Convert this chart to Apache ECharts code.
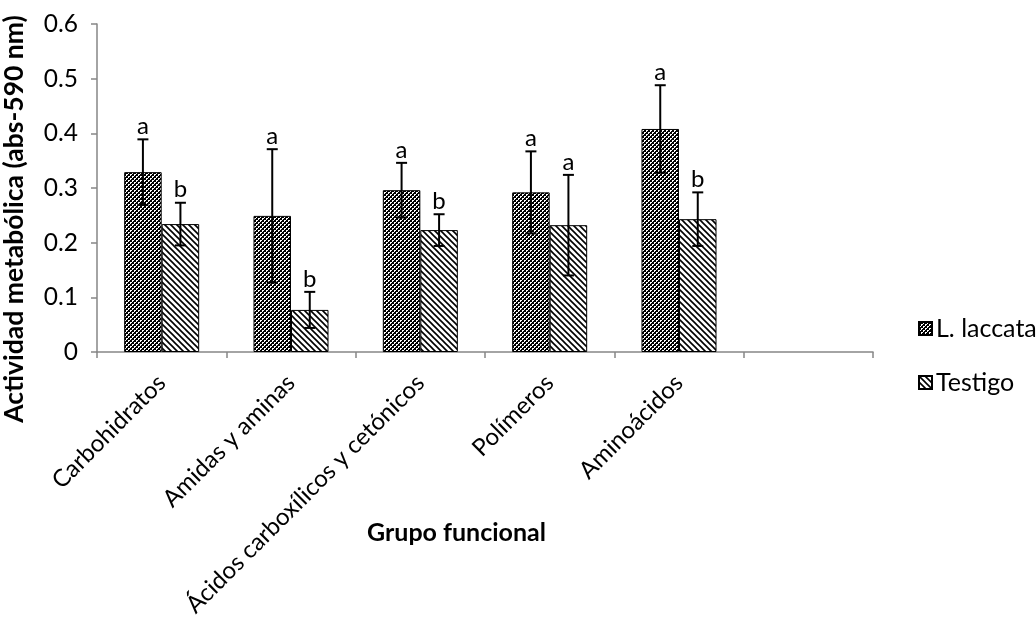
<!DOCTYPE html>
<html>
<head>
<meta charset="utf-8">
<script src="https://cdn.jsdelivr.net/npm/echarts@6/dist/echarts.min.js"></script>
<style>html,body{margin:0;padding:0;background:#fff}#c{width:1036px;height:619px}</style>
</head>
<body>
<div id="c"></div>
<script>
var categories = ['Carbohidratos', 'Amidas y aminas', 'Ácidos carboxílicos y cetónicos', 'Polímeros', 'Aminoácidos', ''];
var laccataValues = [0.329, 0.249, 0.296, 0.292, 0.408, null];
var laccataErrors = [0.060, 0.122, 0.050, 0.075, 0.080, null];
var laccataLetters = ['a', 'a', 'a', 'a', 'a', ''];
var testigoValues = [0.234, 0.077, 0.223, 0.232, 0.243, null];
var testigoErrors = [0.039, 0.033, 0.029, 0.092, 0.049, null];
var testigoLetters = ['b', 'b', 'b', 'a', 'b', ''];
var yTicks = [0, 0.1, 0.2, 0.3, 0.4, 0.5, 0.6];

function checkerPattern() {
  var c = document.createElement('canvas');
  c.width = 4; c.height = 4;
  var g = c.getContext('2d');
  g.fillStyle = '#000'; g.fillRect(0, 0, 4, 4);
  g.fillStyle = '#fff';
  g.fillRect(0, 0, 2, 1); g.fillRect(0, 1, 1, 1);
  g.fillRect(2, 2, 2, 1); g.fillRect(2, 3, 1, 1);
  return c;
}
function diagPattern() {
  var s = 6;
  var c = document.createElement('canvas');
  c.width = s; c.height = s;
  var g = c.getContext('2d');
  g.fillStyle = '#fff'; g.fillRect(0, 0, s, s);
  g.strokeStyle = '#000'; g.lineWidth = 1.6;
  g.beginPath();
  g.moveTo(-1, -1); g.lineTo(s + 1, s + 1);
  g.moveTo(-1, s - 1); g.lineTo(1, s + 1);
  g.moveTo(s - 1, -1); g.lineTo(s + 1, 1);
  g.stroke();
  return c;
}
var pCheck = { image: checkerPattern(), repeat: 'repeat' };
var pDiag = { image: diagPattern(), repeat: 'repeat' };

var BAR_FRAC = 0.29;
var FONT = 'Lato, "Open Sans", sans-serif';

function errData(vals, errs, letters) {
  var out = [];
  for (var i = 0; i < vals.length; i++) {
    if (vals[i] == null) continue;
    out.push([i, vals[i], errs[i], letters[i]]);
  }
  return out;
}
function makeRender(side) {
  return function (params, api) {
    var cat = api.value(0), v = api.value(1), e = api.value(2);
    var bw = api.size([1, 0])[0] * BAR_FRAC;
    var x = api.coord([cat, 0])[0] + side * bw / 2;
    var yTop = api.coord([cat, v + e])[1];
    var yBot = api.coord([cat, v - e])[1];
    var cap = 5.5;
    var letter = (side < 0 ? laccataLetters : testigoLetters)[cat];
    return {
      type: 'group',
      children: [
        { type: 'line', shape: { x1: x, y1: yTop, x2: x, y2: yBot }, style: { stroke: '#000', lineWidth: 2 } },
        { type: 'line', shape: { x1: x - cap, y1: yTop, x2: x + cap, y2: yTop }, style: { stroke: '#000', lineWidth: 2 } },
        { type: 'line', shape: { x1: x - cap, y1: yBot, x2: x + cap, y2: yBot }, style: { stroke: '#000', lineWidth: 2 } },
        { type: 'text', x: x, y: yTop - 1, style: { text: letter, fill: '#000', font: '24px ' + FONT, align: 'center', verticalAlign: 'bottom' } }
      ]
    };
  };
}

var chart = echarts.init(document.getElementById('c'), null, { renderer: 'canvas' });
chart.setOption({
  animation: false,
  backgroundColor: '#fff',
  textStyle: { fontFamily: FONT },
  grid: { left: 97, right: 163, top: 24, bottom: 267, containLabel: false, outerBoundsMode: 'none' },
  legend: {
    orient: 'vertical',
    left: 913, top: 311,
    itemGap: 29,
    itemWidth: 13, itemHeight: 13,
    icon: 'rect',
    textStyle: { fontSize: 25, lineHeight: 25, color: '#000', fontFamily: FONT, padding: [0, 0, 0, -1] },
    data: ['L. laccata', 'Testigo']
  },
  xAxis: {
    type: 'category',
    data: categories,
    axisLine: { lineStyle: { color: '#868686', width: 1.5 } },
    axisTick: { show: true, alignWithLabel: false, length: 6, lineStyle: { color: '#868686', width: 1.5 } },
    axisLabel: { rotate: 45, fontSize: 24, color: '#000', fontFamily: FONT, margin: 27, interval: 0 },
    splitLine: { show: false }
  },
  yAxis: {
    type: 'value',
    min: 0, max: 0.6, interval: 0.1,
    name: 'Actividad metabólica (abs-590 nm)',
    nameLocation: 'middle',
    nameGap: 69,
    nameTextStyle: { fontSize: 26.5, fontWeight: 'bold', color: '#000', fontFamily: FONT, padding: [0, 62, 0, 0] },
    axisLine: { show: true, lineStyle: { color: '#868686', width: 1.5 } },
    axisTick: { show: true, length: 6, lineStyle: { color: '#868686', width: 1.5 } },
    axisLabel: { fontSize: 24.5, color: '#000', fontFamily: FONT, margin: 19,
      formatter: function (v) { return yTicks.indexOf(Math.round(v * 10) / 10) >= 0 ? (v === 0 ? '0' : v.toFixed(1)) : ''; } },
    splitLine: { show: false }
  },
  graphic: [{
    type: 'text', left: 367, top: 520,
    style: { text: 'Grupo funcional', font: 'bold 25px ' + FONT, fill: '#000' }
  }],
  series: [
    { name: 'L. laccata', type: 'bar', data: laccataValues, barWidth: (BAR_FRAC * 100) + '%', barGap: '0%',
      itemStyle: { color: pCheck, borderColor: '#000', borderWidth: 1 } },
    { name: 'Testigo', type: 'bar', data: testigoValues, barWidth: (BAR_FRAC * 100) + '%', barGap: '0%',
      itemStyle: { color: pDiag, borderColor: '#000', borderWidth: 1 } },
    { type: 'custom', data: errData(laccataValues, laccataErrors, laccataLetters), renderItem: makeRender(-1), z: 10, silent: true },
    { type: 'custom', data: errData(testigoValues, testigoErrors, testigoLetters), renderItem: makeRender(1), z: 10, silent: true }
  ]
});
</script>
</body>
</html>
